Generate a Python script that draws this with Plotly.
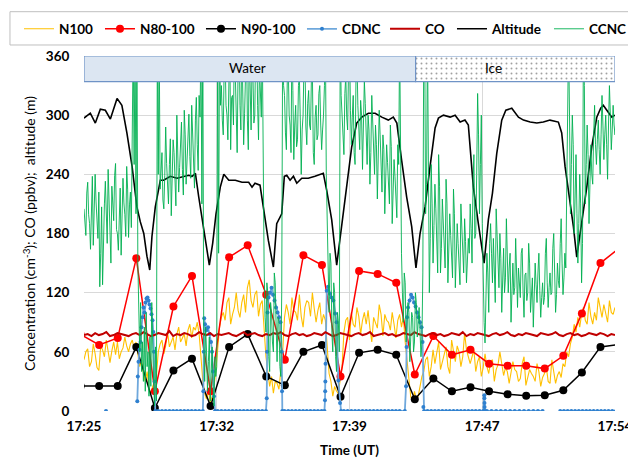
import pandas as pd
import plotly.graph_objects as go

DAY = "2000-01-01"
BASE = pd.Timestamp(DAY + " 17:25:00")


def at(minutes):
    """minutes after 17:25:00 -> timestamps (None kept as a gap)"""
    return [None if m is None else BASE + pd.Timedelta(minutes=m) for m in minutes]


# ---------------- axis ----------------
x_start = DAY + " 17:25:36"
x_end = DAY + " 17:54:12"
tick_times = [DAY + " 17:25:36", DAY + " 17:32:45", DAY + " 17:39:54", DAY + " 17:47:03", DAY + " 17:54:12"]
tick_labels = ["17:25", "17:32", "17:39", "17:47", "17:54"]
y_ticks = [0, 60, 120, 180, 240, 300, 360]

# phase band (minutes after 17:25)
band_edges = [0.6, 18.46, 29.2]
band_labels = ["Water", "Ice"]
band_label_min = [9.38, 22.63]
band_bottom = 334
band_top = 360

# ---------------- one-minute size-resolved counts ----------------
n_start = DAY + " 17:25:25"
n80_100 = [77.5, 67, 74, 155, 20, 106, 137, 20, 156, 168, 118, 52, 158, 148, 35,
           142, 139, 130, 37, 76, 57, 62, 48, 46, 46, 43, 56, 99, 150, 165]
n90_100 = [25.4, 25.4, 25.4, 65, 3, 41, 53, 5, 65, 78, 35, 26, 60, 67, 14.5,
           59, 62, 57, 12, 33, 20, 24, 20, 17, 15.5, 16, 21, 39, 65, 67.6]

# ---------------- N100 (6 s) ----------------
n100_start = DAY + " 17:25:36"
n100 = [52, 60, 63, 45, 50, 68, 58, 44, 41, 66, 62, 55, 72, 58, 49, 61, 70, 57, 70, 53,
        60, 64, 75, 66, 60, 68, 72, 63,
        70, 58, 45, 52, 38, 30, 40, 22, 18, 25, 30, 35,
        60, 68, 72, 58, 66, 80, 65, 70, 75, 62, 78, 85, 70, 74, 78, 66, 82, 88, 74, 85,
        82, 90, 78,
        55, 30, 18, 12, 22, 8, 15, 25, 40, 60,
        85, 95, 100, 92, 110, 115, 88, 98, 105, 120, 102, 95, 110, 118, 100, 125, 133, 112,
        105, 118, 122, 96, 108, 112,
        80, 55, 40, 25, 35, 18, 30, 28, 22, 40, 60,
        95, 108, 100, 88, 115, 102, 100, 92, 118, 96, 85, 105, 112, 110, 96, 120, 104, 90,
        102, 110, 88, 98, 92,
        60, 38, 30, 15, 25, 20, 18, 30, 45,
        80, 92, 95, 72, 100, 88, 85, 105, 96, 78, 92, 100, 88, 102, 84, 70, 95, 90, 84, 108,
        98, 76, 98, 92, 90, 82, 100, 88, 74, 92, 98, 85, 96,
        70, 50, 30, 14, 10, 20, 12, 15, 25, 35,
        40, 52, 55, 35, 45, 62, 48, 58, 70, 42, 50, 58, 65, 45, 38, 72, 60, 50, 66, 60,
        45, 55, 79, 62, 55,
        48, 55, 62, 40, 50, 55, 35, 44, 58, 45, 38, 50, 52, 30, 42, 47, 60, 48, 36, 44,
        40, 28, 38, 50, 42, 40, 30, 33, 48, 55, 26, 35, 42, 38, 35, 30, 48, 40, 25, 34,
        38, 45, 30, 28, 52, 40, 28, 36, 40,
        34, 48, 45, 60, 55, 68, 75, 88, 80, 95,
        85, 98, 105, 92, 88, 110, 96, 88, 100, 92, 115, 104, 95, 108, 98, 90, 112, 100, 98, 105]

# ---------------- CO (12 s) ----------------
co_start = DAY + " 17:25:36"
co = [77, 78, 76, 79, 77, 78, 80, 76, 77, 79, 78, 77, 76, 78, 79, 77, 80, 78, 76, 77,
      79, 78, 77, 81, 76, 78, 77, 79, 78, 76, 77, 80, 78, 77, 79, 76, 78, 77, 78, 79,
      77, 76, 78, 80, 77, 78, 79, 77, 76, 78, 77, 79, 78, 80, 77, 76, 78, 79, 77, 78,
      76, 77, 79, 78, 77, 80, 78, 76, 77, 79, 78, 77, 76, 78, 79, 77, 78, 80, 76, 77,
      78, 79, 77, 78, 76, 77, 79, 78, 77, 80, 78, 77, 76, 78, 79, 77, 78, 76, 77, 79,
      78, 77, 80, 76, 78, 77, 79, 78, 77, 76, 78, 79, 77, 78, 80, 77, 76, 78, 77, 79,
      78, 77, 76, 79, 78, 77, 78, 80, 77, 76, 78, 79, 77, 78, 76, 77, 79, 78,
      77, 79, 78, 76, 78, 77]

# ---------------- CCNC (3 s) ----------------
ccnc_start = DAY + " 17:25:36"
ccnc = [205, 188, 178, 221, 232, 199, 190, 164, 215, 238, 168, 201, 240, 212, 196, 175,
        222, 126, 160, 207, 128, 189, 210, 233, 185, 170, 245, 218, 172, 150, 228, 206,
        193, 239, 251, 184, 180, 163, 214, 226, 158, 197, 236, 211, 199, 177, 248, 225,
        176, 209, 222, 186,
        300, 380, 250, 380, 200, 380, 150, 95, 60, 110, 40, 70, 30, 85, 20, 100, 45, 60,
        15, 75, 25, 110, 50, 30, 5, 65, 10, 380, 240, 380,
        225, 248, 262, 214, 205, 239, 288, 251, 232, 210, 250, 276, 198, 229, 275, 262,
        240, 208, 300, 271, 222, 247, 268, 293, 245, 219, 305, 280, 230, 255, 282, 301,
        258, 236, 310, 277, 248, 226, 295, 318, 270, 244, 320, 298,
        380, 210, 380, 70, 30, 85, 60, 20, 50, 75, 10, 40, 65, 25, 5, 55, 35, 45,
        380, 160, 380, 310,
        330, 295, 280, 352, 360, 310, 300, 275, 345, 380, 265, 318, 320, 290, 380, 335,
        290, 262, 350, 380, 310, 285, 380, 340, 270, 302, 335, 380, 295, 265, 370, 325,
        285, 348, 340, 292, 300, 380, 380, 310, 275, 350, 330, 298,
        380, 240, 150, 95, 80, 130, 120, 55, 40, 110, 100, 70, 60, 140, 130, 85, 50, 95,
        90, 45, 35, 120, 380, 330,
        320, 282, 265, 338, 350, 300, 290, 262, 380, 325, 255, 290, 310, 268, 275, 330,
        340, 295, 240, 285, 300, 355, 360, 288, 270, 312, 325, 290, 285, 340, 345, 262,
        250, 298, 310, 275, 280, 322, 330, 290, 265, 285, 300, 330,
        380, 240, 180, 120, 100, 160, 150, 80, 60, 130, 120, 55, 40, 100, 90, 60, 380, 320,
        300, 275, 260, 322, 340, 298, 285, 350, 380, 305, 270, 298, 320, 262, 250, 340,
        360, 310, 290, 265, 315, 300, 245, 278, 335, 312, 280, 250, 300, 285, 230, 262,
        320, 298, 265, 240, 290, 270, 215, 248, 305, 280, 250, 222, 280, 265, 200, 238,
        270, 252, 235, 210, 290, 268, 190, 225, 255, 238, 220, 196, 270, 250,
        380, 260, 160, 120, 90, 140, 130, 70, 85, 110, 100, 50, 75, 100, 95, 60, 70, 120,
        110, 75, 90, 105, 80, 55, 70, 140, 380, 380,
        200, 230, 380, 250, 120, 175, 250, 210, 150, 188, 230, 205, 170, 140, 260, 228,
        140, 165, 215, 190, 165, 145, 235, 210, 130, 160, 200, 178, 155, 135, 225, 200,
        125, 150, 190, 170, 145, 128, 210, 185, 160, 140, 195, 172, 130, 150, 175, 160,
        210, 185, 150, 230, 260, 175, 180, 240, 322, 280, 200, 250, 300, 190, 120, 90,
        69, 130, 160, 140, 100, 170,
        190, 160, 130, 175, 150, 110, 205, 178, 150, 125, 180, 155, 100, 140, 165, 120,
        135, 195, 160, 120, 145, 160, 90, 130, 150, 118, 125, 175, 140, 105, 145, 128,
        115, 160, 165, 120, 95, 138, 140, 112, 120, 170, 150, 100, 118, 135, 85, 120,
        150, 128, 110, 140, 160, 122, 95, 115, 130, 108, 115, 160, 175, 130, 105, 125,
        140, 118, 120, 165, 180, 140, 100, 118, 150, 132, 125, 170, 195, 150, 118, 135,
        160, 145,
        230, 260, 380, 300, 200, 250, 300, 270, 180, 215, 260, 200, 150, 190, 240, 210,
        130, 170, 380, 330, 210, 250, 290, 260, 190, 230, 270, 240, 230, 280, 310, 270,
        250, 275, 295, 265, 240, 280, 320, 290, 255, 280, 300, 270, 235, 290, 330, 300,
        265, 285, 310, 290, 280, 300]

# ---------------- Altitude (minutes after 17:25, metres) ----------------
alt_min = [0.6, 0.94, 1.21, 1.48, 1.75, 2.02, 2.38, 2.64, 2.91, 3.19,
           3.45, 3.63, 3.82, 3.99, 4.14, 4.26, 4.44, 4.71, 4.89, 5.25,
           5.61, 5.97, 6.24, 6.42, 6.6, 6.78, 6.96, 7.17, 7.35, 7.53,
           7.71, 7.94, 8.13, 8.4, 8.75, 9.11, 9.47, 9.65, 9.81, 10.08,
           10.26, 10.53, 10.8, 10.98, 11.25, 11.39, 11.52, 11.7, 11.88, 12.06,
           12.33, 12.68, 13.04, 13.49, 13.67, 13.94, 14.21, 14.48, 14.75, 15.02,
           15.29, 15.56, 15.92, 16.28, 16.64, 16.99, 17.26, 17.45, 17.71, 17.98,
           18.25, 18.48, 18.7, 18.97, 19.24, 19.51, 19.69, 19.96, 20.32, 20.59,
           20.86, 21.12, 21.3, 21.39, 21.57, 21.84, 22.15, 22.38, 22.6, 22.83,
           23.1, 23.32, 23.64, 24.0, 24.27, 24.63, 24.99, 25.34, 25.7, 26.15,
           26.33, 26.51, 26.78, 26.96, 27.14, 27.41, 27.68, 27.95, 28.22, 28.43,
           28.57, 28.76, 29.03, 29.2]
altitude = [297, 302, 292, 306, 305, 296, 317, 310, 282, 248,
            207, 192, 180, 157, 143, 177, 207, 234, 234, 238,
            236, 238, 239, 238, 241, 217, 194, 170, 148, 170,
            200, 227, 240, 234, 234, 232, 232, 227, 231, 229,
            207, 173, 146, 190, 200, 238, 239, 234, 238, 231,
            236, 236, 238, 241, 224, 194, 148, 187, 227, 268,
            292, 298, 302, 302, 298, 295, 298, 292, 254, 217,
            187, 145, 180, 207, 248, 287, 297, 300, 298, 300,
            293, 295, 290, 268, 227, 190, 150, 194, 221, 261,
            295, 305, 307, 298, 295, 293, 292, 293, 295, 293,
            282, 248, 214, 187, 156, 190, 227, 268, 298, 307,
            310, 305, 298, 300]

# ---------------- CDNC (minutes after 17:25, cm-3; None = no data) ----------------
cdnc_min = [1.785, 2.6,
            3.471, 3.498, 3.536, 3.59, 3.644, 3.698, 3.751, 3.805, 3.859, 3.913, 3.967,
            4.021, 4.075, 4.128, 4.182, 4.236, 4.29, 4.333, 4.371, 4.403, 4.441,
            4.6, 4.8, 5.0, 5.2, 5.4, 5.6, 5.8, 6.0, 6.2, 6.4, 6.6, 6.8, 7.0,
            7.027, 7.048, 7.075, 7.118, 7.199, 7.28, 7.361, 7.441, 7.495, 7.549, 7.603, 7.657,
            7.8, 8.0, 8.2, 8.4, 8.6, 8.8, 9.0, 9.2, 9.4, 9.6, 9.8, 10.0, 10.2, 10.4,
            10.442, 10.458, 10.485, 10.539, 10.62, 10.701, 10.781, 10.862, 10.943, 11.024,
            11.105, 11.185, 11.25, 11.266, 11.282,
            11.4, 11.6, 11.8, 12.0, 12.2, 12.4, 12.6, 12.8, 13.0, 13.2, 13.4, 13.55,
            13.58, 13.59, 13.6, 13.61, 13.674, 13.744, 13.852, 13.933, 14.03, 14.121,
            14.202, 14.299, 14.391, 14.445,
            14.6, 14.8, 15.0, 15.2, 15.4, 15.6, 15.8, 16.0, 16.2, 16.4, 16.6, 16.8,
            17.0, 17.2, 17.4, 17.6, 17.88,
            17.946, 17.973, 18.0, 18.054, 18.135, 18.215, 18.296, 18.377, 18.458, 18.539,
            18.619, 18.7, 18.781, 18.835, 18.878, 18.916,
            19.1, 19.3, 19.5, 19.7, 19.9, 20.1, 20.3, 20.5, 20.7, 20.9, 21.1, 21.3,
            21.5, 21.7, 21.9, 22.1,
            22.16, 22.165, 22.17, 22.175, 22.2,
            22.3, 22.55, 22.8, 23.05, 23.3, 23.55, 23.8, 24.05, 24.3, 24.55, 24.8, 25.05, 25.3,
            25.8,
            26.25, 26.45, 26.65, 26.85, 27.05, 27.25, 27.45, 27.65, 27.85, 28.05, 28.25,
            28.45, 28.65, 28.85, 29.05, 29.25]
cdnc = [0, None,
        10, 35, 50, 62, 70, 85, 95, 105, 100, 110, 114,
        115, 112, 108, 104, 98, 92, 80, 60, 30, 0,
        0, 0, 0, 0, 0, 0, 0, 0, 0, 0, 0, 0, 0,
        20, 60, 94, 88, 82, 85, 78, 70, 60, 40, 15, 0,
        0, 0, 0, 0, 0, 0, 0, 0, 0, 0, 0, 0, 0, 0,
        13, 60, 100, 115, 120, 125, 118, 112, 105, 100,
        95, 90, 60, 20, 0,
        0, 0, 0, 0, 0, 0, 0, 0, 0, 0, 0, 0,
        11, 20, 30, 48, 122, 126, 119, 115, 112, 99,
        90, 31, 8, 0,
        0, 0, 0, 0, 0, 0, 0, 0, 0, 0, 0, 0,
        0, 0, 0, 0, 0,
        25, 65, 95, 105, 112, 118, 115, 110, 106, 100,
        95, 90, 85, 70, 4, 0,
        0, 0, 0, 0, 0, 0, 0, 0, 0, 0, 0, 0,
        0, 0, 0, 0,
        16, 13, 8, 4, 0,
        0, 0, 0, 0, 0, 0, 0, 0, 0, 0, 0, 0, 0,
        None,
        0, 0, 0, 0, 0, 0, 0, 0, 0, 0, 0,
        0, 0, 0, 0, 0]

# ---------------- figure ----------------
t_n = pd.date_range(n_start, periods=len(n80_100), freq="1min")
t_n100 = pd.date_range(n100_start, periods=len(n100), freq="6s")
t_co = pd.date_range(co_start, periods=len(co), freq="12s")
t_ccnc = pd.date_range(ccnc_start, periods=len(ccnc), freq="3s")

fig = go.Figure()
fig.add_trace(go.Scatter(x=t_n100, y=n100, name="N100", mode="lines", legend="legend",
                         line=dict(color="#FFC000", width=1.1)))
fig.add_trace(go.Scatter(x=t_n, y=n80_100, name="N80-100", mode="lines+markers", legend="legend2",
                         line=dict(color="#FF0000", width=1.5),
                         marker=dict(color="#FF0000", size=8)))
fig.add_trace(go.Scatter(x=t_n, y=n90_100, name="N90-100", mode="lines+markers", legend="legend3",
                         line=dict(color="#000000", width=1.5),
                         marker=dict(color="#000000", size=8)))
fig.add_trace(go.Scatter(x=at(cdnc_min), y=cdnc, name="CDNC", mode="lines+markers", legend="legend4",
                         line=dict(color="#6FA8DC", width=1.8),
                         marker=dict(color="#2F80CF", size=4), connectgaps=False))
fig.add_trace(go.Scatter(x=t_co, y=co, name="CO", mode="lines", legend="legend5",
                         line=dict(color="#C00000", width=2)))
fig.add_trace(go.Scatter(x=at(alt_min), y=altitude, name="Altitude", mode="lines", legend="legend6",
                         line=dict(color="#000000", width=1.6)))
fig.add_trace(go.Scatter(x=t_ccnc, y=ccnc, name="CCNC", mode="lines", legend="legend7",
                         line=dict(color="#00B050", width=0.9)))

# phase band drawn on an overlaying axis so it sits above the data
edges = at(band_edges)
centers = [edges[i] + (edges[i + 1] - edges[i]) / 2 for i in range(len(band_labels))]
widths = [(edges[i + 1] - edges[i]).total_seconds() * 1000 for i in range(len(band_labels))]
fig.add_trace(go.Bar(x=centers, y=[band_top - band_bottom] * len(band_labels),
                     base=[band_bottom] * len(band_labels), width=widths,
                     xaxis="x2", yaxis="y2", showlegend=False, hoverinfo="skip",
                     marker=dict(color=["#DCE6F2", "#FFFFFF"],
                                 line=dict(color="#6F93C6", width=1.2),
                                 pattern=dict(shape=["", "."], fgcolor="#C3D4EC",
                                              size=5, solidity=0.12))))

annotations = [dict(x=t, y=(band_bottom + band_top) / 2 + 1, xref="x", yref="y", text=lab,
                    showarrow=False, font=dict(size=13.5, color="#000000"))
               for t, lab in zip(at(band_label_min), band_labels)]

legend_font = dict(size=13.5, weight="bold", color="#000000")
legend_x = [-0.1224, 0.0301, 0.2203, 0.4105, 0.5669, 0.6930, 0.8757]
legend_names = ["legend", "legend2", "legend3", "legend4", "legend5", "legend6", "legend7"]
legend_layout = {name: dict(orientation="h", x=lx, y=1.076, xanchor="left", yanchor="middle",
                            font=legend_font, bgcolor="rgba(0,0,0,0)", itemwidth=30,
                            borderwidth=0)
                 for name, lx in zip(legend_names, legend_x)}

# the page body has an 8 px margin, so the figure is 8 px smaller than the window
fig.update_layout(
    width=628, height=454,
    margin=dict(l=76, r=21, t=48, b=51, autoexpand=False),
    paper_bgcolor="white", plot_bgcolor="white",
    font=dict(family="Lato, Carlito, sans-serif", size=14, color="#000000"),
    xaxis=dict(type="date", range=[x_start, x_end], tickmode="array",
               tickvals=tick_times, ticktext=tick_labels,
               showgrid=True, gridcolor="#D9D9D9", gridwidth=1, zeroline=False,
               showline=False, ticks="outside", ticklen=3, tickcolor="rgba(0,0,0,0)",
               tickfont=dict(size=13.5, weight="bold"),
               title=dict(text="Time (UT)", font=dict(size=13.5, weight="bold"), standoff=12)),
    yaxis=dict(range=[0, 360], tickmode="array", tickvals=y_ticks,
               showgrid=True, gridcolor="#D9D9D9", gridwidth=1, zeroline=False,
               showline=False, ticks="outside", ticklen=11, tickcolor="rgba(0,0,0,0)",
               tickfont=dict(size=13.5, weight="bold"),
               title=dict(text="Concentration (cm<sup>-3</sup>); CO (ppbv);  altitude (m)",
                          font=dict(size=14), standoff=6)),
    xaxis2=dict(type="date", overlaying="x", range=[x_start, x_end], visible=False),
    yaxis2=dict(overlaying="y", range=[0, 360], visible=False),
    showlegend=True,
    shapes=[dict(type="rect", xref="paper", yref="paper",
                 x0=-0.1394, x1=1.05, y0=1.031, y1=1.1248,
                 line=dict(color="#BFBFBF", width=1), fillcolor="rgba(0,0,0,0)")],
    annotations=annotations,
    **legend_layout,
)

fig.write_html("out.html")
